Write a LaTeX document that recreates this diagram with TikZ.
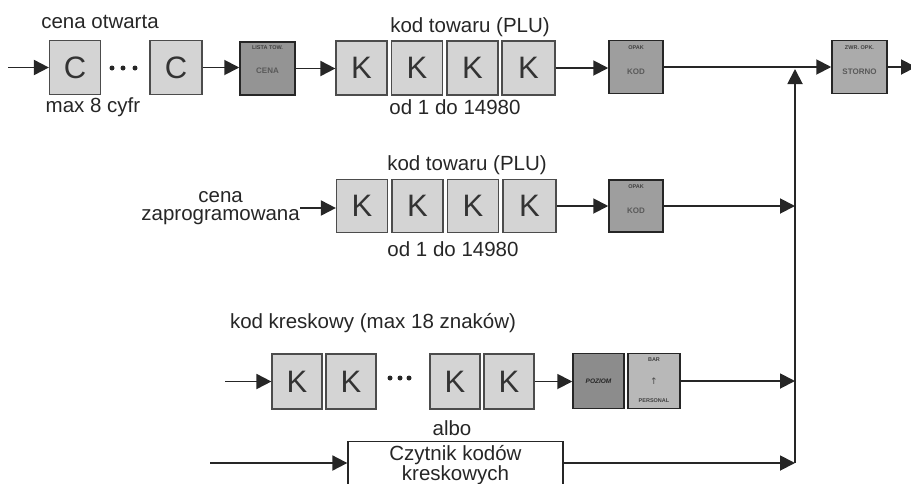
\documentclass[tikz,border=0pt]{standalone}
\usepackage{fontspec}
\setmainfont{Liberation Sans}
\newfontfamily\symfont{DejaVu Sans}
\usetikzlibrary{arrows.meta}
\begin{document}
\begin{tikzpicture}[x=1pt,y=-1pt,
  ln/.style={draw=black!85, line width=1.9pt},
  arr/.style={ln,-{Triangle[length=15pt,width=15pt]}},
  kbox/.style={draw=black!70, line width=1.2pt, fill=black!17, minimum width=51pt, minimum height=54pt, inner sep=0pt, font=\fontsize{31}{31}\selectfont, text=black!80},
  key/.style={draw=black!85, line width=1.5pt, fill=black!38, minimum width=54pt, minimum height=53pt, inner sep=0pt},
  lbl/.style={font=\fontsize{20.5}{18.5}\selectfont, text=black!85, inner sep=0pt},
  tiny/.style={font=\fontsize{5.5}{6}\selectfont\bfseries, text=black!75, inner sep=0pt},
  mid/.style={font=\fontsize{8}{8}\selectfont\bfseries, text=black!65, inner sep=0pt},
  bigdot/.style={circle, fill=black!85, inner sep=0pt, minimum size=5pt}]
\clip (0,0) rectangle (911,483);
\useasboundingbox (0,0) rectangle (911,483);
% ---------- row 1 ----------
\coordinate (s1) at (8,67.5);
\node[kbox] (c1) at (75,67.5) {C};
\node[bigdot] (d11) at (112,68) {};
\node[bigdot] (d12) at (123,68) {};
\node[bigdot] (d13) at (135,68) {};
\node[kbox, minimum width=52pt] (c2) at (176,67.5) {C};
\node[lbl] (t1) at (100,22) {cena otwarta};
\node[lbl] (t2) at (93,107) {max 8 cyfr};
\node[key, minimum width=55pt, fill=black!42] (lt) at (267.5,68.5) {};
\node[tiny] (lt1) at (267.5,48) {LISTA TOW.};
\node[mid] (lt2) at (267.5,71) {CENA};
\node[kbox] (k11) at (361.5,68) {K};
\node[kbox] (k12) at (417,68) {K};
\node[kbox] (k13) at (472.5,68) {K};
\node[kbox, minimum width=53pt] (k14) at (528.5,68) {K};
\node[lbl] (t3) at (470,27) {kod towaru (PLU)};
\node[lbl] (t4) at (455,107) {od 1 do 14980};
\node[key] (op1) at (636,67) {};
\node[tiny] (op1a) at (636,47.5) {OPAK};
\node[mid] (op1b) at (636,71.5) {KOD};
\node[key, minimum width=55pt, fill=black!33] (st) at (859.5,67) {};
\node[tiny] (st1) at (859.5,47.5) {ZWR. OPK.};
\node[mid] (st2) at (859.5,71.5) {STORNO};
\coordinate (e1) at (916,67);
\coordinate (j1) at (795,69);
\draw[arr] (s1) -- (c1.west);
\draw[arr] (c2.east) -- (c2.east -| lt.west);
\draw[arr] (lt.east) -- (lt.east -| k11.west);
\draw[arr] (k14.east) -- (k14.east -| op1.west);
\draw[arr] (op1.east) -- (st.west);
\draw[arr] (st.east) -- (e1);
% ---------- row 2 ----------
\node[lbl, align=center, anchor=east] (zap) at (300,208) {cena\\zaprogramowana};
\node[kbox, minimum height=53pt] (k21) at (362,206) {K};
\node[kbox, minimum height=53pt] (k22) at (417.5,206) {K};
\node[kbox, minimum height=53pt] (k23) at (473,206) {K};
\node[kbox, minimum height=53pt, minimum width=53pt] (k24) at (529.5,206) {K};
\node[lbl] (t5) at (467,165) {kod towaru (PLU)};
\node[lbl] (t6) at (453,249) {od 1 do 14980};
\node[key, minimum height=52pt] (op2) at (636,206) {};
\node[tiny] (op2a) at (636,187) {OPAK};
\node[mid] (op2b) at (636,211) {KOD};
\coordinate (j2) at (795,206);
\draw[arr] (zap.east) -- (zap.east -| k21.west);
\draw[arr] (k24.east) -- (op2.west);
\draw[arr] (op2.east) -- (j2);
% ---------- row 3 ----------
\node[lbl] (t7) at (373,323) {kod kreskowy (max 18 znaków)};
\coordinate (s3) at (225,381.5);
\node[kbox, minimum width=50pt, minimum height=55pt] (k31) at (297,381.5) {K};
\node[kbox, minimum width=50pt, minimum height=55pt] (k32) at (351,381.5) {K};
\node[bigdot] (d31) at (390,378) {};
\node[bigdot] (d32) at (400,378) {};
\node[bigdot] (d33) at (409,378) {};
\node[kbox, minimum width=50pt, minimum height=55pt] (k33) at (455,381.5) {K};
\node[kbox, minimum width=50pt, minimum height=55pt] (k34) at (509,381.5) {K};
\node[key, minimum width=51pt, minimum height=55pt, fill=black!45] (poz) at (598.5,381) {};
\node[font=\fontsize{6.5}{7}\selectfont\bfseries\itshape, text=black!85, inner sep=0pt] (poz1) at (598.5,381) {POZIOM};
\node[key, minimum width=52pt, minimum height=55pt, fill=black!28] (bar) at (654,381) {};
\node[tiny] (bar1) at (654,360) {BAR};
\node[font=\symfont\fontsize{9}{9}\selectfont, text=black!70, inner sep=0pt] (bar2) at (654,381) {↑};
\node[tiny] (bar3) at (654,401) {PERSONAL};
\coordinate (j3) at (795,381);
\draw[arr] (s3) -- (k31.west);
\draw[arr] (k34.east) -- (k34.east -| poz.west);
\draw[arr] (bar.east) -- (j3);
% ---------- row 4 ----------
\node[lbl] (t8) at (452,428) {albo};
\node[draw=black!85, line width=1.3pt, minimum width=215pt, minimum height=70pt, anchor=north, inner sep=0pt] (cz) at (455.5,441) {};
\node[lbl, align=center, anchor=north] (czt) at (455.5,445) {Czytnik kodów\\kreskowych};
\coordinate (s4) at (210,463);
\coordinate (j4) at (795,463);
\draw[arr] (s4) -- (s4 -| cz.west);
\draw[arr] (cz.east |- j4) -- (j4);
% ---------- collector ----------
\draw[arr] (j4) -- (j1);
\end{tikzpicture}
\end{document}
